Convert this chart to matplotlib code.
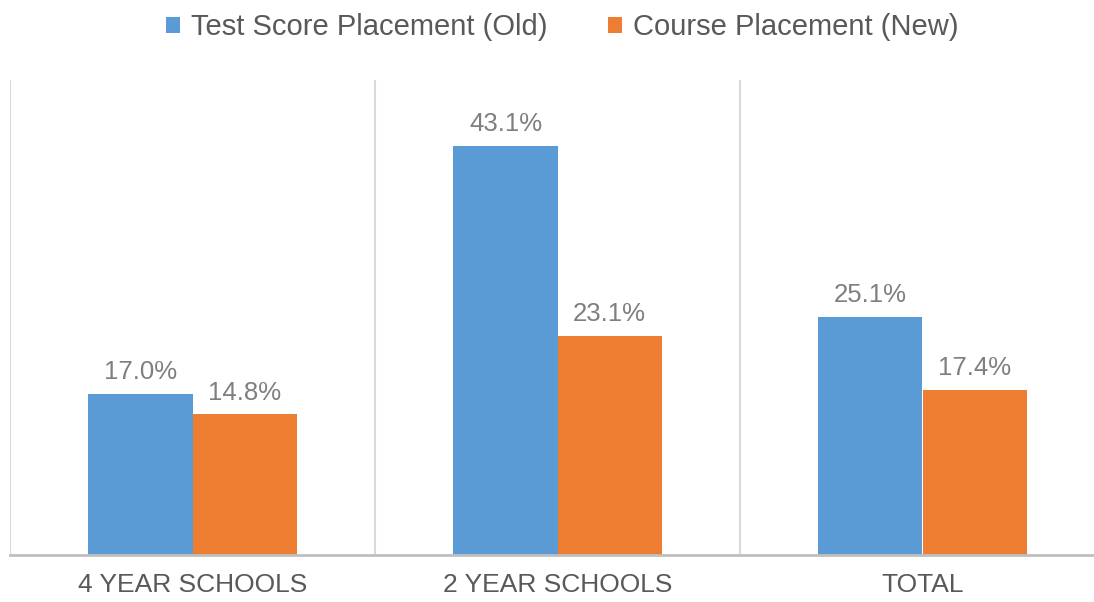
import matplotlib
matplotlib.use("Agg")
import matplotlib.pyplot as plt
import numpy as np

categories = ["4 YEAR SCHOOLS", "2 YEAR SCHOOLS", "TOTAL"]
old_vals = [17.0, 43.1, 25.1]
new_vals = [14.8, 23.1, 17.4]
series_names = ["Test Score Placement (Old)", "Course Placement (New)"]

plt.rcParams['font.family'] = ['Liberation Sans', 'DejaVu Sans']

fig = plt.figure(figsize=(10.94, 6.02), dpi=100)
ax = fig.add_axes([10/1094, 1-555/602, 1095/1094, 475/602])

x = np.arange(len(categories))
w = 0.285
blue = "#5B9BD5"
orange = "#ED7D31"
b1 = ax.bar(x - w/2, old_vals, w, color=blue, label=series_names[0])
b2 = ax.bar(x + w/2, new_vals, w, color=orange, label=series_names[1])

lblcol = "#7F7F7F"
for bars, vals in ((b1, old_vals), (b2, new_vals)):
    for r, v in zip(bars, vals):
        ax.annotate(f"{v:.1f}%", (r.get_x() + r.get_width()/2, v),
                    xytext=(0, 7), textcoords="offset points",
                    ha="center", va="bottom", fontsize=18.5, color=lblcol)

ax.set_xlim(-0.5, len(categories) - 0.5)
ax.set_ylim(0, 50)
for b in np.arange(len(categories) + 1) - 0.5:
    ax.axvline(b, color="#D9D9D9", lw=1.5, zorder=0)

for s in ["top", "right", "left"]:
    ax.spines[s].set_visible(False)
ax.spines["bottom"].set_color("#BFBFBF")
ax.spines["bottom"].set_linewidth(2)
ax.set_yticks([])
ax.set_xticks(x)
ax.set_xticklabels(categories, fontsize=19, color="#595959")
ax.tick_params(axis="x", length=0, pad=13)

fig.legend(handles=[b1, b2], loc="center", bbox_to_anchor=(0.514, 0.955), ncol=2,
           frameon=False, fontsize=21, labelcolor="#595959",
           handlelength=0.48, handleheight=0.48, handletextpad=0.35, columnspacing=2.1)

fig.savefig("out.png", dpi=100, facecolor="white")
